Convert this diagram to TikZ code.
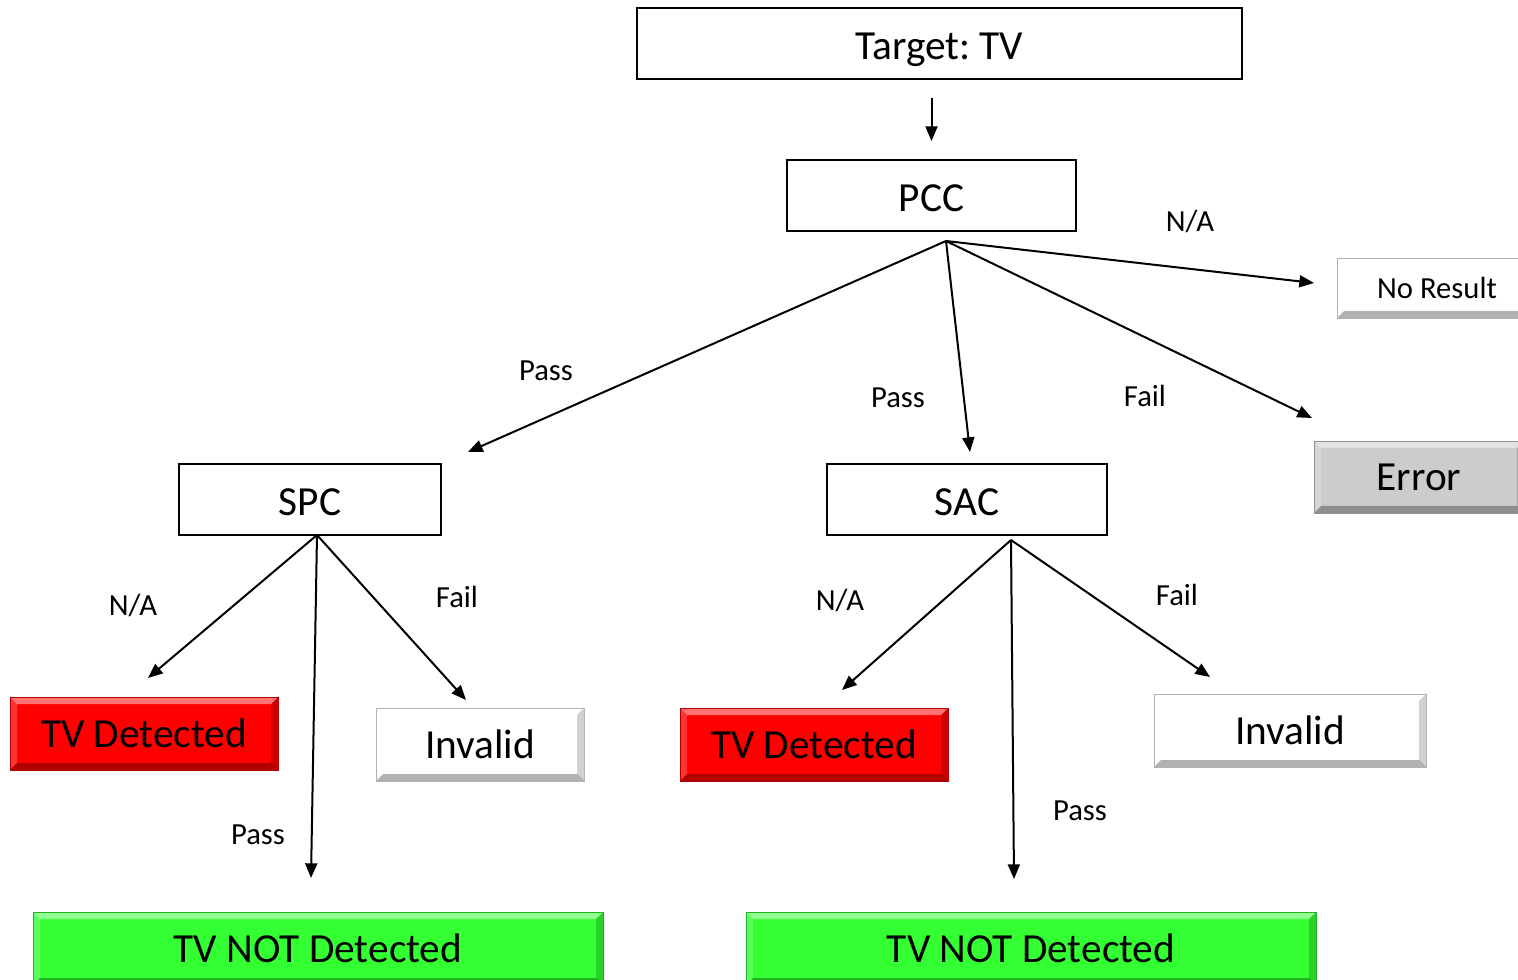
\documentclass[tikz,border=0pt]{standalone}
\usepackage{fontspec}
\setmainfont{Carlito}
\frenchspacing
\usetikzlibrary{arrows.meta,calc}

\definecolor{detred}{RGB}{255,0,0}
\definecolor{notgreen}{RGB}{51,255,51}
\definecolor{errgray}{RGB}{204,204,204}
\definecolor{plainwhite}{RGB}{255,255,255}

\tikzset{
  stage/.style={draw, line width=1.5pt, inner sep=0pt, minimum height=71*0.75pt,
    text height=24pt, text depth=0pt, font=\fontsize{31}{36}\selectfont},
  result/.style={fill=#1, draw=#1!70!black, line width=0.6pt, inner sep=0pt,
    minimum height=73*0.75pt, font=\fontsize{31}{36}\selectfont,
    path picture={
      \coordinate (bnw) at (path picture bounding box.north west);
      \coordinate (bne) at (path picture bounding box.north east);
      \coordinate (bsw) at (path picture bounding box.south west);
      \coordinate (bse) at (path picture bounding box.south east);
      % y runs upward inside the path picture
      \fill[white, opacity=.45] (bnw) -- (bne) -- ($(bne)+(-7,-7)$) -- ($(bnw)+(7,-7)$) -- cycle;
      \fill[white, opacity=.2] (bnw) -- ($(bnw)+(7,-7)$) -- ($(bsw)+(7,7)$) -- (bsw) -- cycle;
      \fill[black, opacity=.3] (bsw) -- (bse) -- ($(bse)+(-7,7)$) -- ($(bsw)+(7,7)$) -- cycle;
      \fill[black, opacity=.18] (bne) -- ($(bne)+(-7,-7)$) -- ($(bse)+(-7,7)$) -- (bse) -- cycle;
    }},
  lbl/.style={font=\fontsize{23}{27}\selectfont, inner sep=0pt},
  flow/.style={line width=1.5pt, -{Triangle[length=11pt,width=9pt]}},
}

\begin{document}
\begin{tikzpicture}[x=0.75pt,y=0.75pt,yscale=-1,xscale=1]
	\clip (0,0) rectangle (1518,980);

	% Stages
	\node [stage, minimum width=605*0.75pt] (target) at (939.5,43.5) {Target: TV};
	\node [stage, minimum width=289*0.75pt] (pcc) at (931.5,195.5) {PCC};
	\node [stage, minimum width=262*0.75pt] (spc) at (310,499.5) {SPC};
	\node [stage, minimum width=280*0.75pt] (sac) at (967,499.5) {SAC};

	% Results
	\node [result=plainwhite, minimum width=200*0.75pt, minimum height=60*0.75pt, font=\fontsize{23}{27}\selectfont] (noresult) at (1437,288) {No Result};
	\node [result=errgray, minimum width=210*0.75pt, minimum height=72*0.75pt] (error) at (1419,477) {Error};
	\node [result=detred, minimum width=268*0.75pt] (spcdet) at (144,733.5) {TV Detected};
	\node [result=plainwhite, minimum width=208*0.75pt] (spcinv) at (480,744.5) {Invalid};
	\node [result=notgreen, minimum width=570*0.75pt] (spcnot) at (318,948.5) {TV NOT Detected};
	\node [result=detred, minimum width=268*0.75pt] (sacdet) at (814,744.5) {TV Detected};
	\node [result=plainwhite, minimum width=272*0.75pt] (sacinv) at (1290,730.5) {Invalid};
	\node [result=notgreen, minimum width=570*0.75pt] (sacnot) at (1031,948.5) {TV NOT Detected};

	% Branch points
	\coordinate (pccout) at (946,241);
	\coordinate (spcout) at (317,535);
	\coordinate (sacout) at (1011,540);

	% Arrow ends
	\coordinate (spcin) at (468,452);
	\coordinate (sacin) at (970,452);
	\coordinate (noresultin) at (1314,283);
	\coordinate (errorin) at (1312,418);
	\coordinate (spcdetin) at (148,678);
	\coordinate (spcinvin) at (466,700);
	\coordinate (spcnotin) at (311,878);
	\coordinate (sacdetin) at (842,690);
	\coordinate (sacinvin) at (1210,677);
	\coordinate (sacnotin) at (1014,879);

	% Connections
	\draw [flow, shorten <=18*0.75pt, shorten >=18*0.75pt] (pcc.north |- target.south) -- (pcc.north);
	\draw [flow] (pccout) -- (spcin);
	\draw [flow] (pccout) -- (sacin);
	\draw [flow] (pccout) -- (noresultin);
	\draw [flow] (pccout) -- (errorin);
	\draw [flow] (spcout) -- (spcdetin);
	\draw [flow] (spcout) -- (spcinvin);
	\draw [flow] (spcout) -- (spcnotin);
	\draw [flow] (sacout) -- (sacdetin);
	\draw [flow] (sacout) -- (sacinvin);
	\draw [flow] (sacout) -- (sacnotin);

	% Labels
	\node [lbl] (l1) at (546,371) {Pass};
	\node [lbl] (l2) at (898,398) {Pass};
	\node [lbl] (l3) at (1190,222) {N/A};
	\node [lbl] (l4) at (1145,396) {Fail};
	\node [lbl] (l5) at (133,606) {N/A};
	\node [lbl] (l6) at (457,597) {Fail};
	\node [lbl] (l7) at (258,835) {Pass};
	\node [lbl] (l8) at (840,601) {N/A};
	\node [lbl] (l9) at (1177,595) {Fail};
	\node [lbl] (l10) at (1080,811) {Pass};

\end{tikzpicture}
\end{document}
